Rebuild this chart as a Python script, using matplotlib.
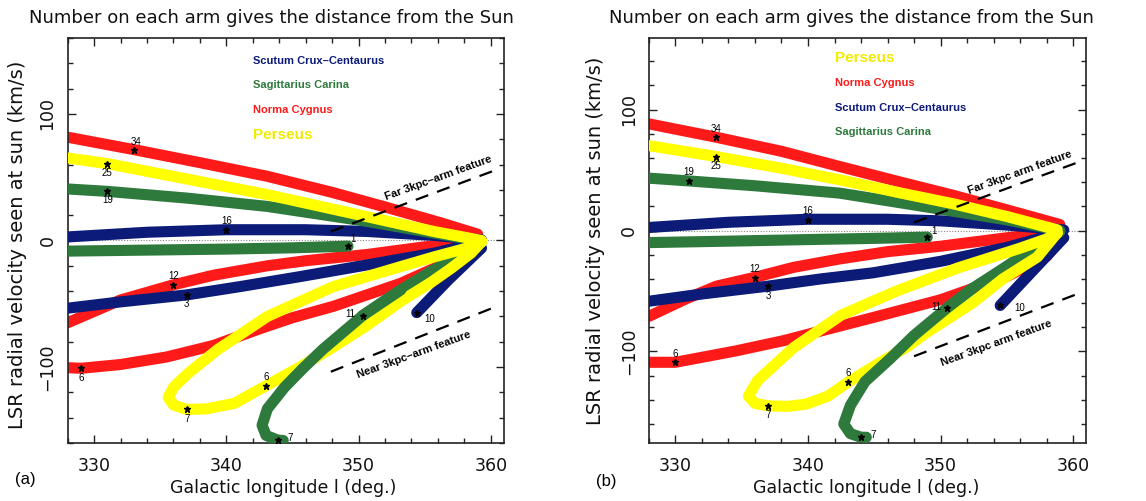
import matplotlib
matplotlib.use('Agg')
import matplotlib.pyplot as plt
from matplotlib.ticker import MultipleLocator, FixedLocator

# ---------------- Panel (a) data ----------------
a_red_far_l = [328, 333, 338, 343.1, 348, 352, 356.2, 359]
a_red_far_v = [81.6, 71.8, 61.5, 50.7, 38, 26.5, 14, 5]
a_yel_far_l = [328, 331, 337, 343.1, 349, 355.7, 359.3]
a_yel_far_v = [65.2, 60.7, 48.6, 36.2, 22.6, 7.1, 0]
a_grn_far_l = [328, 331, 337, 343.1, 350.7, 355.7, 359]
a_grn_far_v = [40.7, 38.8, 33.5, 26.9, 15, 5.8, 0]
a_blu_far_l = [328, 334, 340, 346, 350.7, 355.7, 359.3]
a_blu_far_v = [2.8, 6.5, 8.5, 8.5, 7.1, 4, 0.5]
a_grn_near_l = [328, 334, 340, 345, 349.2]
a_grn_near_v = [-8.4, -7.6, -6.8, -5.8, -4.5]
a_red_mid_l = [328, 330, 332, 336, 339, 343.1, 346, 350.7, 355, 359]
a_red_mid_v = [-65, -56, -47, -35, -27.5, -20, -16, -11, -5, -1]
a_blu_mid_l = [328, 332, 337, 341, 345.6, 350.7, 355.7, 359]
a_blu_mid_v = [-53.5, -48.5, -43, -36.5, -28.5, -19.2, -10, -2]
a_red_near_l = [328, 329, 332, 335.5, 339, 342.6, 345, 348.1, 353.2, 357.7, 359]
a_red_near_v = [-100.5, -101, -98, -92, -83, -69.5, -61, -52, -33.8, -12.7, -4]
a_yel_loop_l = [359.3, 358.2, 355.7, 353.2, 348.1, 343.1, 339.3, 337.1, 336.0, 335.6,
                336.0, 337.0, 338.5, 340.6, 343.0, 345.6, 348.1, 350.5, 353.2, 355.5,
                357.0, 358.5, 359.3]
a_yel_loop_v = [-1, -6, -13, -20.6, -36.4, -60, -86.5, -105, -116, -124,
                -130, -133.5, -133, -128.7, -114.8, -99.8, -84, -68, -48, -33,
                -22, -10, -1]
a_grn_arc_l = [359, 358.2, 355.7, 353.2, 350.3, 347.3, 345.8, 344.4, 343.1, 342.7,
               343.0, 343.9, 344.3]
a_grn_arc_v = [-1, -10, -23, -39, -59.4, -86, -101, -116, -133, -146,
               -154, -157.8, -158]
a_blu_short_l = [354.4, 356.8, 359.3]
a_blu_short_v = [-57, -31, -6]

# stars (l, v) and their distance labels
a_star_l = [333.0, 331.0, 331.0, 340.0, 349.2, 336.0, 337.0, 329.0, 337.0, 343.0, 350.3, 354.4, 343.9]
a_star_v = [71.8, 60.7, 38.8, 8.5, -4.5, -35, -43, -101, -133.5, -114.8, -59.4, -57, -157.8]
a_star_txt = ['34', '25', '19', '16', '1', '12', '3', '6', '7', '6', '11', '10', '7']
a_txt_l = [333.2, 331.0, 331.0, 340.0, 349.6, 336.0, 337.0, 329.0, 337.0, 343.0, 349.4, 355.4, 344.8]
a_txt_v = [78, 53.5, 32, 15, 1, -28, -50.5, -108.5, -141, -108, -58, -62, -156]

# ---------------- Panel (b) data ----------------
b_red_far_l = [328, 333.05, 338, 342.4, 347, 351, 355.0, 359]
b_red_far_v = [88.2, 77.2, 65.5, 52.9, 40, 29, 17.1, 5]
b_yel_far_l = [328, 333.05, 338, 342.4, 347, 351, 355.0, 358.8]
b_yel_far_v = [70.2, 61.2, 51.5, 41.9, 31, 22, 11.6, 0.6]
b_grn_far_l = [328, 331, 336, 342.4, 349.5, 355, 359]
b_grn_far_v = [43.3, 41, 37, 30.9, 18.5, 8.8, 0]
b_blu_far_l = [328, 334, 340, 346, 350, 355, 359.3]
b_blu_far_v = [2.5, 6.8, 9.3, 9.3, 8, 4.5, 0.5]
b_grn_near_l = [328, 334, 340, 345, 349.0]
b_grn_near_v = [-10, -8.8, -7.5, -6.5, -5.5]
b_red_mid_l = [328, 330.8, 333.1, 336, 338.9, 342.4, 346, 350, 355, 359]
b_red_mid_v = [-71, -56.5, -46, -38.7, -30.5, -23.5, -17.5, -13, -6, -1]
b_blu_mid_l = [328, 332, 337, 341, 344.9, 350, 355, 359]
b_blu_mid_v = [-58.5, -52.5, -46, -40, -35, -25.5, -14, -2]
b_red_near_l = [328, 330, 334.6, 338.2, 341, 344.9, 350, 355, 358, 359]
b_red_near_v = [-109, -109, -99.5, -91, -83, -72, -57.3, -38, -21.5, -8]
b_yel_loop_l = [358.8, 358, 355.9, 351.3, 346.7, 342.5, 338.9, 337.4, 336.2, 335.5,
                336.0, 337.0, 338.5, 339.9, 341.5, 343.0, 345.5, 347.5, 349, 352.4,
                354.7, 357.3, 358.8]
b_yel_loop_v = [-2, -7, -15, -31, -50, -70, -97, -112, -124, -137,
                -143, -145, -145.5, -143.5, -137, -125.6, -108.8, -96, -84, -60,
                -40, -22, -2]
b_grn_arc_l = [359, 357, 354.7, 352.4, 350.5, 348, 346.2, 344.3, 343.2, 342.7,
               343.2, 344.0, 344.4]
b_grn_arc_v = [-1, -15, -31.7, -48, -64, -86.8, -106, -125, -144.6, -160,
               -168, -171, -171]
b_blu_short_l = [354.5, 356.9, 359.3]
b_blu_short_v = [-62, -34, -6]

b_star_l = [333.05, 333.05, 331.0, 340.0, 349.0, 336.0, 337.0, 330.0, 337.0, 343.0, 350.5, 354.5, 344.0]
b_star_v = [77.2, 61.2, 41, 8.8, -5.5, -39.4, -46.3, -109, -145, -125.6, -64, -62, -171]
b_star_txt = ['34', '25', '19', '16', '1', '12', '3', '6', '7', '6', '11', '10', '7']
b_txt_l = [333.05, 333.05, 331.0, 340.0, 349.5, 336.0, 337.0, 330.0, 337.0, 343.0, 349.7, 356.0, 344.9]
b_txt_v = [84, 53.5, 48, 16, 0, -32, -54, -102, -153, -118, -63, -64, -169]

# 3kpc-arm feature dashed lines
a_far3_l = [347.9, 360.1]
a_far3_v = [7.1, 54.6]
a_near3_l = [347.9, 360.1]
a_near3_v = [-103.7, -53.5]
b_far3_l = [348.0, 360.2]
b_far3_v = [6.6, 55.7]
b_near3_l = [348.0, 360.2]
b_near3_v = [-104, -53]

# legends
a_legend = ['Scutum Crux\u2013Centaurus', 'Sagittarius Carina', 'Norma Cygnus', 'Perseus']
a_legend_c = ['blu', 'grn', 'red', 'yel']
a_legend_v = [142, 122.5, 102.7, 83.7]
b_legend = ['Perseus', 'Norma Cygnus', 'Scutum Crux\u2013Centaurus', 'Sagittarius Carina']
b_legend_c = ['yel', 'red', 'blu', 'grn']
b_legend_v = [143, 121.8, 101.7, 81.3]

COL = {'red': '#ff1a1a', 'yel': '#ffff00', 'grn': '#2e7a3c', 'blu': '#0c1a78'}
LW = 8.0
THIN = ['DejaVu Sans']
SANS = ['Liberation Sans', 'DejaVu Sans']
INK = '#111111'

fig = plt.figure(figsize=(11.46, 5.01), dpi=100)
axa = fig.add_axes([0.0591, 0.1158, 0.3807, 0.8084])
axb = fig.add_axes([0.5663, 0.1152, 0.3816, 0.8084])


def band(ax, l, v, c, z):
    ax.plot(l, v, color=COL[c], lw=LW, solid_capstyle='round',
            solid_joinstyle='round', zorder=z)


def panel(ax, ylim, d, far_txt, near_txt, far_pos, near_pos, leg, leg_c, leg_v,
          ylab_xy, xlab_xy):
    ax.set_xlim(328, 361)
    ax.set_ylim(*ylim)
    ax.plot([328, 361], [0, 0], color='#888888', lw=0.8, ls=(0, (1, 1.5)), zorder=1)
    band(ax, d['red_far'][0], d['red_far'][1], 'red', 2)
    band(ax, d['red_mid'][0], d['red_mid'][1], 'red', 2)
    band(ax, d['red_near'][0], d['red_near'][1], 'red', 2)
    band(ax, d['blu_far'][0], d['blu_far'][1], 'blu', 3)
    band(ax, d['blu_mid'][0], d['blu_mid'][1], 'blu', 3)
    band(ax, d['blu_short'][0], d['blu_short'][1], 'blu', 3)
    band(ax, d['grn_far'][0], d['grn_far'][1], 'grn', 4)
    band(ax, d['grn_near'][0], d['grn_near'][1], 'grn', 4)
    # upper (tip) part of the green arc lies beneath the yellow bands
    gl, gv = d['grn_arc']
    band(ax, gl[:5], gv[:5], 'grn', 4)
    band(ax, d['yel_far'][0], d['yel_far'][1], 'yel', 5)
    band(ax, d['yel_loop'][0], d['yel_loop'][1], 'yel', 5)
    # lower part of the green arc crosses over the yellow loop
    band(ax, gl[3:], gv[3:], 'grn', 6)
    # stars and numbers
    ax.plot(d['star'][0], d['star'][1], ls='none', marker='*', ms=4.5,
            color='k', zorder=8)
    for t, x, y in zip(d['star'][2], d['txt'][0], d['txt'][1]):
        ax.text(x, y, t, fontsize=7, family=SANS, ha='center', va='center', zorder=9)
    for (l, v) in (d['far3'], d['near3']):
        ax.plot(l, v, color='k', lw=1.6, ls=(0, (6, 4.2)), zorder=7)
    ax.text(far_pos[0], far_pos[1], far_txt, fontsize=8, family=SANS,
            fontweight='bold', rotation=20, ha='center', va='center', zorder=9,
            rotation_mode='anchor')
    ax.text(near_pos[0], near_pos[1], near_txt, fontsize=8, family=SANS,
            fontweight='bold', rotation=20, ha='center', va='center', zorder=9,
            rotation_mode='anchor')
    for t, c, y in zip(leg, leg_c, leg_v):
        fs = 11 if t == 'Perseus' else 8
        col = '#f2ea00' if c == 'yel' else COL[c]
        ax.text(342.0, y, t, color=col, fontsize=fs, family=SANS,
                fontweight='bold', ha='left', va='center', zorder=9)
    ax.xaxis.set_major_locator(FixedLocator([330, 340, 350, 360]))
    ax.xaxis.set_minor_locator(MultipleLocator(2))
    ax.yaxis.set_major_locator(FixedLocator([-100, 0, 100]))
    ax.yaxis.set_minor_locator(MultipleLocator(20))
    ax.tick_params(which='both', direction='in', top=True, right=True,
                   width=1.0, color='#222222')
    ax.tick_params(which='major', length=6)
    ax.tick_params(which='minor', length=3.8)
    ax.tick_params(axis='x', which='major', pad=10, labelsize=12.5)
    ax.tick_params(axis='y', which='major', pad=8, labelsize=12.5)
    for lab in ax.get_xticklabels() + ax.get_yticklabels():
        lab.set_family(THIN)
        lab.set_color(INK)
    for lab in ax.get_yticklabels():
        lab.set_rotation(90)
        lab.set_va('center')
    for s in ax.spines.values():
        s.set_linewidth(1.2)
        s.set_color('#222222')
    ax.set_ylabel('LSR radial velocity seen at sun (km/s)', fontsize=14,
                  family=THIN, color=INK)
    ax.yaxis.set_label_coords(*ylab_xy)
    ax.set_xlabel('Galactic longitude l (deg.)', fontsize=12.5, family=THIN,
                  color=INK)
    ax.xaxis.set_label_coords(*xlab_xy)


da = {'red_far': (a_red_far_l, a_red_far_v), 'red_mid': (a_red_mid_l, a_red_mid_v),
      'red_near': (a_red_near_l, a_red_near_v), 'blu_far': (a_blu_far_l, a_blu_far_v),
      'blu_mid': (a_blu_mid_l, a_blu_mid_v), 'blu_short': (a_blu_short_l, a_blu_short_v),
      'grn_far': (a_grn_far_l, a_grn_far_v), 'grn_near': (a_grn_near_l, a_grn_near_v),
      'yel_far': (a_yel_far_l, a_yel_far_v), 'yel_loop': (a_yel_loop_l, a_yel_loop_v),
      'grn_arc': (a_grn_arc_l, a_grn_arc_v),
      'star': (a_star_l, a_star_v, a_star_txt), 'txt': (a_txt_l, a_txt_v),
      'far3': (a_far3_l, a_far3_v), 'near3': (a_near3_l, a_near3_v)}
db = {'red_far': (b_red_far_l, b_red_far_v), 'red_mid': (b_red_mid_l, b_red_mid_v),
      'red_near': (b_red_near_l, b_red_near_v), 'blu_far': (b_blu_far_l, b_blu_far_v),
      'blu_mid': (b_blu_mid_l, b_blu_mid_v), 'blu_short': (b_blu_short_l, b_blu_short_v),
      'grn_far': (b_grn_far_l, b_grn_far_v), 'grn_near': (b_grn_near_l, b_grn_near_v),
      'yel_far': (b_yel_far_l, b_yel_far_v), 'yel_loop': (b_yel_loop_l, b_yel_loop_v),
      'grn_arc': (b_grn_arc_l, b_grn_arc_v),
      'star': (b_star_l, b_star_v, b_star_txt), 'txt': (b_txt_l, b_txt_v),
      'far3': (b_far3_l, b_far3_v), 'near3': (b_near3_l, b_near3_v)}

panel(axa, (-160, 160), da, 'Far 3kpc\u2013arm feature', 'Near 3kpc\u2013arm feature',
      (356.0, 49.4), (354.2, -90.5), a_legend, a_legend_c, a_legend_v,
      (-0.094, 0.49), (0.4935, -0.088))
panel(axb, (-176, 159), db, 'Far 3kpc arm feature', 'Near 3kpc arm feature',
      (356.0, 48.2), (354.2, -93), b_legend, b_legend_c, b_legend_v,
      (-0.101, 0.50), (0.497, -0.088))

title = 'Number on each arm gives the distance from the Sun'
fig.text(0.2365, 0.964, title, fontsize=13, family=THIN,
         ha='center', va='center', color=INK)
fig.text(0.7426, 0.964, title, fontsize=13, family=THIN,
         ha='center', va='center', color=INK)
fig.text(0.0218, 0.042, '(a)', fontsize=12, family=SANS, ha='center', va='center')
fig.text(0.5288, 0.0385, '(b)', fontsize=12, family=SANS, ha='center', va='center')

fig.savefig('out.png', dpi=100)
